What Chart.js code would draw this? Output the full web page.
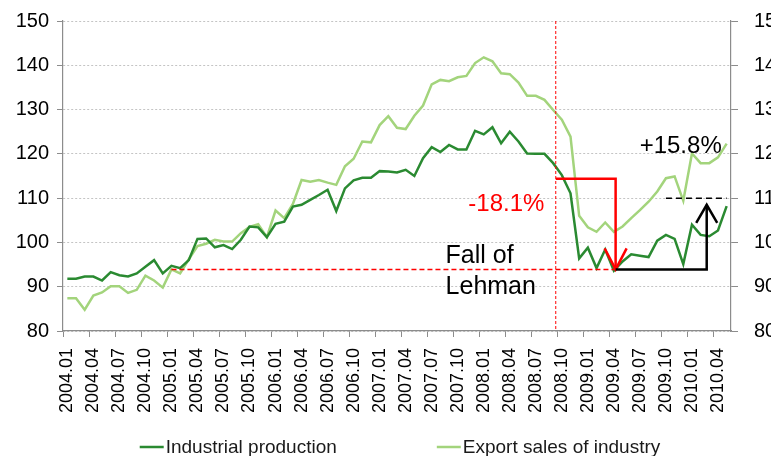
<!DOCTYPE html>
<html>
<head>
<meta charset="utf-8">
<title>Industrial production and export sales of industry</title>
<script src="https://cdn.jsdelivr.net/npm/chart.js@4.4.1/dist/chart.umd.min.js"></script>
<style>
  html, body { margin: 0; padding: 0; background: #fff; overflow: hidden; }
  #wrap { width: 771px; height: 456px; position: relative; }
</style>
</head>
<body>
<div id="wrap"><canvas id="chart"></canvas></div>
<script>
/* ================= DATA ================= */
const startYear = 2004;
const monthCount = 77; // 2004.01 - 2010.05

// index values
const industrialProduction = [
    91.8, 91.8, 92.3, 92.3, 91.4, 93.3, 92.6, 92.3, 93.0, 94.5, 96.0, 93.0,          // 2004
    94.7, 94.2, 96.0, 100.8, 100.9, 98.9, 99.4, 98.5, 100.6, 103.6, 103.4, 101.2,    // 2005
    104.2, 104.7, 108.1, 108.5, 109.6, 110.7, 111.9, 107.1, 112.2, 114.0, 114.6, 114.6, // 2006
    116.1, 116.0, 115.8, 116.4, 115.0, 119.0, 121.5, 120.4, 122.0, 121.0, 121.0, 125.2, // 2007
    124.4, 126.0, 122.4, 125.0, 122.8, 120.1, 120.0, 120.0, 117.9, 115.2, 111.1, 96.4,  // 2008
    98.8, 94.2, 98.4, 93.6, 95.7, 97.3, 97.0, 96.7, 100.4, 101.7, 100.8, 95.1,        // 2009
    104.0, 101.7, 101.4, 102.7, 108.2                                              // 2010
];

const exportSales = [
    87.4, 87.4, 84.8, 88.0, 88.7, 90.1, 90.1, 88.6, 89.3, 92.5, 91.4, 89.8,          // 2004
    93.9, 93.0, 96.2, 99.2, 99.7, 100.6, 100.2, 100.2, 102.1, 103.5, 104.1, 101.2,   // 2005
    107.2, 105.5, 108.7, 114.1, 113.7, 114.1, 113.5, 113.0, 117.2, 118.9, 122.8, 122.6, // 2006
    126.5, 128.5, 125.9, 125.6, 128.6, 130.9, 135.7, 136.7, 136.4, 137.3, 137.6, 140.5, // 2007
    141.8, 140.9, 138.2, 138.0, 136.1, 133.1, 133.1, 132.2, 129.9, 127.7, 123.9, 106.0, // 2008
    103.4, 102.4, 104.5, 102.4, 103.6, 105.5, 107.3, 109.2, 111.5, 114.5, 114.9, 109.4, // 2009
    120.1, 117.9, 117.9, 119.2, 122.3                                              // 2010
];

const seriesNames = ['Industrial production', 'Export sales of industry'];
const seriesColors = ['#2a8a31', '#a3d47c'];

const yMin = 80;
const yMax = 150;
const yStep = 10;

// annotation anchors (category index / index value)
const lehmanIndex = 56.3;
const troughIndex = 63.2;
const recoveryIndex = 73.7;
const dashStartIndex = 12;
const targetStartIndex = 69;
const targetEndIndex = 76;
const troughLevel = 93.9;
const preFallLevel = 114.4;
const recoveryTipLevel = 108.5;
const targetLevel = 110;

const FONT = "'Liberation Sans', Arial, sans-serif";

// month labels 2004.01 ...
const months = [];
for (let i = 0; i < monthCount; i++) {
    const yr = startYear + Math.floor(i / 12);
    const mo = (i % 12) + 1;
    months.push(yr + '.' + String(mo).padStart(2, '0'));
}

/* ================= PLUGINS ================= */
function strokeLine(ctx, x1, y1, x2, y2) {
    ctx.beginPath();
    ctx.moveTo(x1, y1);
    ctx.lineTo(x2, y2);
    ctx.stroke();
}

function arrowHead(ctx, tipX, tipY, halfW, len, dir) {
    // dir = 1 pointing down, -1 pointing up
    ctx.beginPath();
    ctx.moveTo(tipX - halfW, tipY - dir * len);
    ctx.lineTo(tipX, tipY);
    ctx.lineTo(tipX + halfW, tipY - dir * len);
    ctx.stroke();
}

const annotationPlugin = {
    id: 'lehmanNotes',
    afterDatasetsDraw(chart) {
        const { ctx, chartArea, scales: { x, y } } = chart;
        const px = v => x.getPixelForValue(v);
        const py = v => y.getPixelForValue(v);
        ctx.save();

        // Lehman vertical marker
        ctx.strokeStyle = '#ff0000';
        ctx.lineWidth = 1;
        ctx.setLineDash([3, 2]);
        strokeLine(ctx, px(lehmanIndex), chartArea.top, px(lehmanIndex), chartArea.bottom);

        // red dashed level line
        ctx.lineWidth = 1.5;
        ctx.setLineDash([5, 3]);
        strokeLine(ctx, px(dashStartIndex), py(troughLevel), px(troughIndex), py(troughLevel));

        // red fall arrow
        ctx.setLineDash([]);
        ctx.lineWidth = 2.5;
        ctx.beginPath();
        ctx.moveTo(px(lehmanIndex), py(preFallLevel));
        ctx.lineTo(px(troughIndex), py(preFallLevel));
        ctx.lineTo(px(troughIndex), py(troughLevel));
        ctx.stroke();
        arrowHead(ctx, px(troughIndex), py(troughLevel), 11, 21, 1);

        // black recovery arrow
        ctx.strokeStyle = '#000';
        ctx.beginPath();
        ctx.moveTo(px(troughIndex), py(troughLevel));
        ctx.lineTo(px(recoveryIndex), py(troughLevel));
        ctx.lineTo(px(recoveryIndex), py(recoveryTipLevel));
        ctx.stroke();
        arrowHead(ctx, px(recoveryIndex), py(recoveryTipLevel), 10.5, 18, -1);

        // black dashed target level
        ctx.lineWidth = 1.5;
        ctx.setLineDash([6, 4]);
        strokeLine(ctx, px(targetStartIndex), py(targetLevel), px(targetEndIndex), py(targetLevel));
        ctx.setLineDash([]);

        // texts
        ctx.textBaseline = 'middle';
        ctx.font = '24px ' + FONT;
        ctx.fillStyle = '#ff0000';
        ctx.textAlign = 'center';
        ctx.fillText('-18.1%', px(50.6), py(108.5));
        ctx.fillStyle = '#000';
        ctx.fillText('+15.8%', px(70.7), py(121.6));
        ctx.textAlign = 'left';
        ctx.font = '25px ' + FONT;
        ctx.fillText('Fall of', px(43.6), py(97.0));
        ctx.fillText('Lehman', px(43.6), py(90.0));

        ctx.restore();
    }
};

const legendPlugin = {
    id: 'bottomLegend',
    afterDraw(chart) {
        const { ctx, chartArea } = chart;
        const sample = 24, gap = 2, spacing = 100;
        ctx.save();
        ctx.font = '19px ' + FONT;
        ctx.textBaseline = 'middle';
        ctx.textAlign = 'left';
        const items = chart.data.datasets.map(ds => ({ text: ds.label, color: ds.borderColor }));
        const widths = items.map(it => sample + gap + ctx.measureText(it.text).width);
        const total = widths.reduce((a, b) => a + b, 0) + spacing * (items.length - 1);
        let cx = (chartArea.left + chartArea.right) / 2 + 3 - total / 2;
        const cy = chart.height - 9;
        items.forEach((it, i) => {
            ctx.strokeStyle = it.color;
            ctx.lineWidth = 2.5;
            strokeLine(ctx, cx, cy, cx + sample, cy);
            ctx.fillStyle = '#1a1a1a';
            ctx.fillText(it.text, cx + sample + gap, cy + 1);
            cx += widths[i] + spacing;
        });
        ctx.restore();
    }
};

/* ================= CHART ================= */
const axisGray = '#8c8c8c';
const yTickFont = { size: 20, family: FONT };

new Chart(document.getElementById('chart'), {
    type: 'line',
    data: {
        labels: months,
        datasets: [
            { label: seriesNames[0], data: industrialProduction, borderColor: seriesColors[0], borderWidth: 2.5, pointRadius: 0, tension: 0 },
            { label: seriesNames[1], data: exportSales, borderColor: seriesColors[1], borderWidth: 2.5, pointRadius: 0, tension: 0 }
        ]
    },
    options: {
        responsive: true,
        maintainAspectRatio: false,
        animation: false,
        layout: { padding: { top: 21, bottom: 35, left: 0, right: 0 } },
        plugins: { legend: { display: false }, tooltip: { enabled: false } },
        scales: {
            x: {
                offset: true,
                grid: {
                    offset: true,
                    drawOnChartArea: false,
                    tickLength: 6,
                    tickColor: c => (c.index % 3 === 0 ? axisGray : 'rgba(0,0,0,0)')
                },
                border: { color: axisGray, width: 1.2 },
                ticks: {
                    autoSkip: false,
                    minRotation: 90,
                    maxRotation: 90,
                    padding: 11,
                    color: '#000',
                    font: { size: 18, family: FONT },
                    callback: function (v, i) { return i % 3 === 0 ? this.getLabelForValue(v) : ''; }
                },
                afterFit: s => { s.height = 90; }
            },
            y: {
                position: 'left',
                min: yMin,
                max: yMax,
                ticks: { stepSize: yStep, padding: 8, color: '#000', font: yTickFont },
                grid: { color: '#c4c4c4', tickColor: axisGray, tickLength: 6 },
                border: { color: axisGray, width: 1.2, dash: [2, 2] },
                afterFit: s => { s.width = 63; }
            },
            y2: {
                position: 'right',
                min: yMin,
                max: yMax,
                ticks: { stepSize: yStep, padding: 16, color: '#000', font: { size: 20, family: FONT, lineHeight: 0.5 } },
                grid: { drawOnChartArea: false, tickColor: axisGray, tickLength: 7 },
                border: { color: axisGray, width: 1.2 },
                afterFit: s => { s.width = 40; }
            }
        }
    },
    plugins: [annotationPlugin, legendPlugin]
});
</script>
</body>
</html>
